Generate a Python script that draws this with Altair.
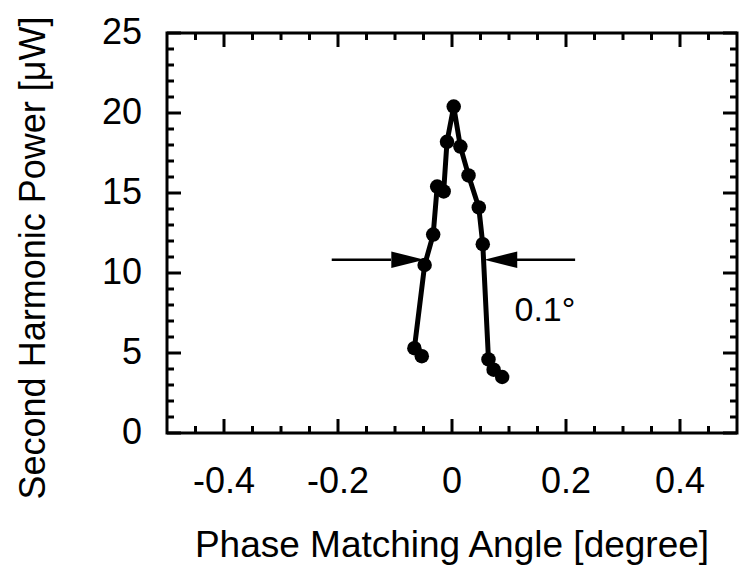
import altair as alt
import pandas as pd

# ---- data ----
angle = [-0.053, -0.066, -0.048, -0.033, -0.026, -0.0146, -0.0088, 0.003,
         0.0147, 0.029, 0.047, 0.054, 0.064, 0.073, 0.088]
power = [4.8, 5.3, 10.5, 12.4, 15.4, 15.1, 18.2, 20.4,
         17.9, 16.1, 14.1, 11.8, 4.6, 3.96, 3.5]
scan_order = [0, 1, 2, 3, 4, 5, 6, 7, 8, 9, 10, 11, 12, 13, 14]

x_major = [-0.4, -0.2, 0.0, 0.2, 0.4]
x_labels = ["-0.4", "-0.2", "0", "0.2", "0.4"]
x_minor = [-0.45, -0.35, -0.3, -0.25, -0.15, -0.1, -0.05, 0.05, 0.1, 0.15,
           0.25, 0.3, 0.35, 0.45]
y_major = [0, 5, 10, 15, 20, 25]
y_labels = ["0", "5", "10", "15", "20", "25"]
y_minor = [1, 2, 3, 4, 6, 7, 8, 9, 11, 12, 13, 14, 16, 17, 18, 19, 21, 22, 23, 24]

x_title = ["Phase Matching Angle [degree]"]
y_title = ["Second Harmonic Power [μW]"]

arrow_y = [10.83, 10.83]
arrow_tail = [-0.211, 0.216]
arrow_base = [-0.107, 0.112]
arrow_tip = [-0.048, 0.059]
arrow_shape = ["M-1,-0.5L1,0L-1,0.5Z", "M1,-0.5L-1,0L1,0.5Z"]

note_text = ["0.1°"]
note_x = [0.163]
note_y = [7.6]

FONT = "Liberation Sans"
W, H = 570, 400
X0, X1 = -0.5, 0.5
Y0, Y1 = 0, 25
MAJ, MIN = 14, 7  # tick lengths in pixels

curve = pd.DataFrame({"angle": angle, "power": power, "order": scan_order})
arrows = pd.DataFrame({"tail": arrow_tail, "base": arrow_base, "tip": arrow_tip,
                       "y": arrow_y, "shape": arrow_shape})
note = pd.DataFrame({"text": note_text, "x": note_x, "y": note_y})

xs = alt.Scale(domain=[X0, X1], nice=False, zero=False)
ys = alt.Scale(domain=[Y0, Y1], nice=False, zero=False)


def ylen(px):
    return px * (Y1 - Y0) / H


def xlen(px):
    return px * (X1 - X0) / W


def x_ticks(values, length, top):
    # inward tick on the bottom or top edge, drawn as a small vertical bar
    c = Y1 - ylen(length / 2) if top else Y0 + ylen(length / 2)
    return alt.Chart(pd.DataFrame({"v": values})).transform_calculate(
        c=str(c)
    ).mark_tick(color="black", orient="vertical", size=length, thickness=3,
                opacity=1).encode(
        x=alt.X("v:Q", scale=xs, axis=None),
        y=alt.Y("c:Q", scale=ys, axis=None),
    )


def y_ticks(values, length, right):
    # inward tick on the left or right edge, drawn as a small horizontal bar
    c = X1 - xlen(length / 2) if right else X0 + xlen(length / 2)
    return alt.Chart(pd.DataFrame({"v": values})).transform_calculate(
        c=str(c)
    ).mark_tick(color="black", orient="horizontal", size=length, thickness=3,
                opacity=1).encode(
        y=alt.Y("v:Q", scale=ys, axis=None),
        x=alt.X("c:Q", scale=xs, axis=None),
    )


tick_layers = [
    x_ticks(x_major, MAJ, False), x_ticks(x_minor, MIN, False),
    x_ticks(x_major, MAJ, True), x_ticks(x_minor, MIN, True),
    y_ticks(y_major, MAJ, False), y_ticks(y_minor, MIN, False),
    y_ticks(y_major, MAJ, True), y_ticks(y_minor, MIN, True),
]

x_tick_text = alt.Chart(pd.DataFrame({"v": x_major, "t": x_labels})).mark_text(
    font=FONT, fontSize=36, color="black", align="center", baseline="top"
).encode(x=alt.X("v:Q", scale=xs, axis=None), y=alt.value(H + 32), text="t:N")

y_tick_text = alt.Chart(pd.DataFrame({"v": y_major, "t": y_labels})).mark_text(
    font=FONT, fontSize=36, color="black", align="right", baseline="middle"
).encode(y=alt.Y("v:Q", scale=ys, axis=None), x=alt.value(-25), text="t:N")

x_title_text = alt.Chart(pd.DataFrame({"t": x_title})).mark_text(
    font=FONT, fontSize=37, color="black", align="center", baseline="alphabetic"
).encode(x=alt.value(285), y=alt.value(H + 124), text="t:N")

y_title_text = alt.Chart(pd.DataFrame({"t": y_title})).mark_text(
    font=FONT, fontSize=36, color="black", align="center", baseline="alphabetic",
    angle=270,
).encode(x=alt.value(-122), y=alt.value(225), text="t:N")

line = alt.Chart(curve).mark_line(
    color="black", strokeWidth=5, strokeJoin="round", strokeCap="round"
).encode(
    x=alt.X("angle:Q", scale=xs, axis=None),
    y=alt.Y("power:Q", scale=ys, axis=None),
    order="order:Q",
)

points = alt.Chart(curve).mark_circle(size=210, color="black", opacity=1).encode(
    x=alt.X("angle:Q", scale=xs, axis=None),
    y=alt.Y("power:Q", scale=ys, axis=None),
)

shafts = alt.Chart(arrows).mark_rule(color="black", strokeWidth=2.5).encode(
    x=alt.X("tail:Q", scale=xs, axis=None),
    x2="base:Q",
    y=alt.Y("y:Q", scale=ys, axis=None),
)

heads = alt.Chart(arrows).transform_calculate(
    mid="(datum.base + datum.tip) / 2"
).mark_point(filled=True, color="black", opacity=1, size=1089, strokeWidth=0).encode(
    x=alt.X("mid:Q", scale=xs, axis=None),
    y=alt.Y("y:Q", scale=ys, axis=None),
    shape=alt.Shape("shape:N", scale=None),
)

label = alt.Chart(note).mark_text(
    font=FONT, fontSize=34, color="black", align="center", baseline="middle"
).encode(
    x=alt.X("x:Q", scale=xs, axis=None),
    y=alt.Y("y:Q", scale=ys, axis=None),
    text="text:N",
)

chart = alt.layer(
    x_tick_text, y_tick_text, x_title_text, y_title_text,
    line, points, shafts, heads, label, *tick_layers,
).properties(
    width=W, height=H,
    padding={"left": 167, "top": 33, "right": 3, "bottom": 138},
    autosize=alt.AutoSizeParams(type="none"),
    background="white",
).configure_view(stroke="black", strokeWidth=3)

chart.save("out.html", embed_options={"renderer": "svg", "actions": False})
